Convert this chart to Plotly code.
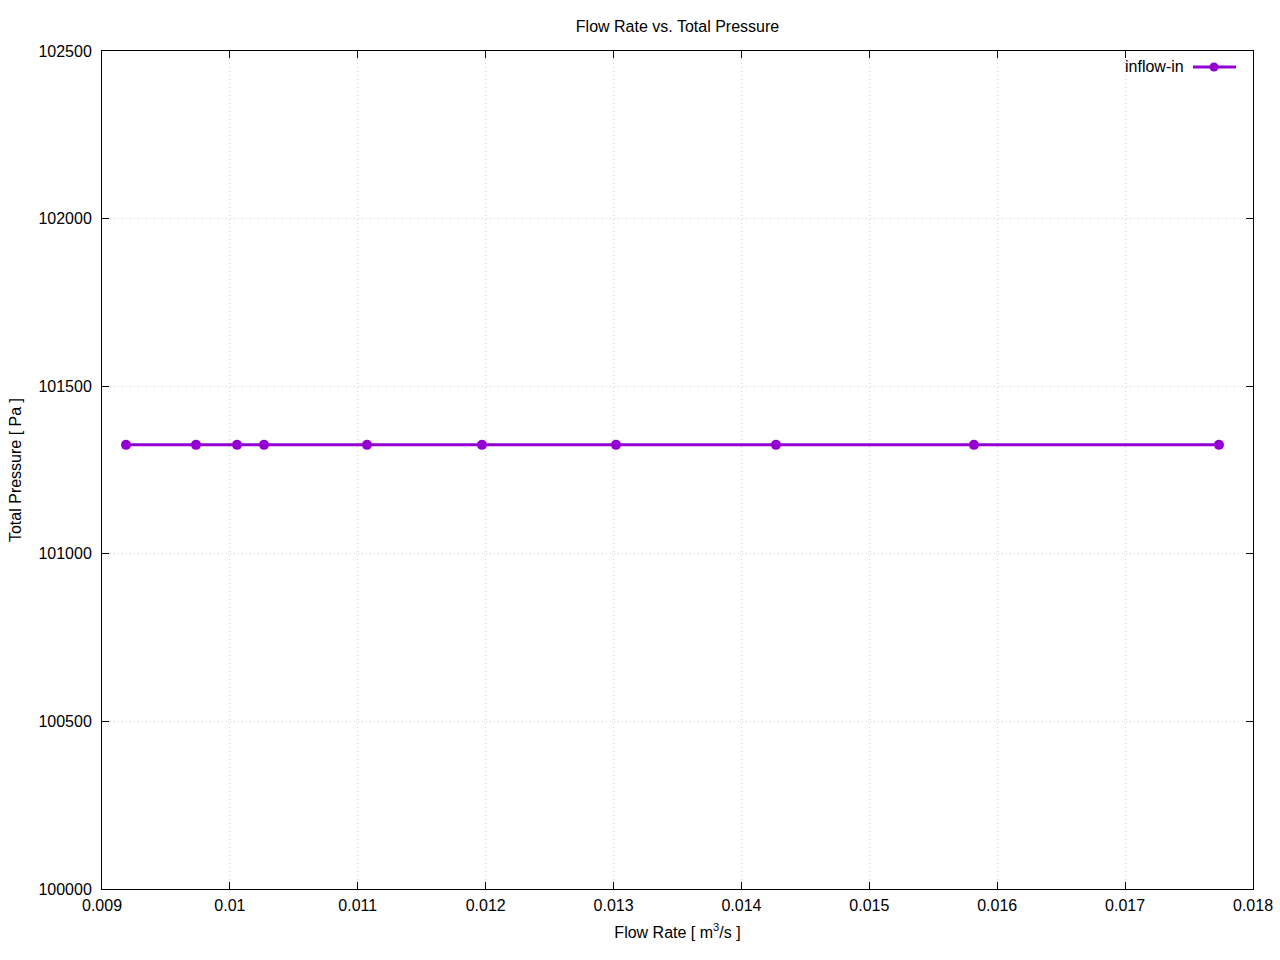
import plotly.graph_objects as go

flow_rate = [0.009188, 0.009735, 0.010056, 0.010267, 0.011072,
             0.011971, 0.013019, 0.014270, 0.015818, 0.017734]
total_pressure = [101325] * len(flow_rate)
series_name = "inflow-in"
x_ticks = [0.009, 0.010, 0.011, 0.012, 0.013, 0.014, 0.015, 0.016, 0.017, 0.018]
x_tick_labels = ["0.009", "0.01", "0.011", "0.012", "0.013", "0.014", "0.015", "0.016", "0.017", "0.018"]
y_ticks = [100000, 100500, 101000, 101500, 102000, 102500]
y_tick_labels = ["100000", "100500", "101000", "101500", "102000", "102500"]

COLOR = "#9400D3"
FONT = "Liberation Sans, Arial, sans-serif"

fig = go.Figure()
fig.add_trace(go.Scatter(
    x=flow_rate, y=total_pressure, mode="lines+markers", name=series_name,
    line=dict(color=COLOR, width=3),
    marker=dict(color=COLOR, size=10, symbol="circle"),
    showlegend=False,
))

axis_common = dict(
    showline=True, linecolor="black", linewidth=1, mirror="allticks",
    ticks="inside", ticklen=7, tickcolor="black", tickwidth=1,
    showgrid=True, gridcolor="#cfcfcf", griddash="1px,3px", gridwidth=1,
    zeroline=False, tickfont=dict(family=FONT, size=16, color="black"),
    automargin=False,
)

fig.update_xaxes(range=[0.009, 0.018], tickvals=x_ticks, ticktext=x_tick_labels,
                 ticklabelstandoff=2,
                 title=dict(text="Flow Rate [ m<sup>3</sup>/s ]", font=dict(family=FONT, size=16, color="black"), standoff=13),
                 **axis_common)
fig.update_yaxes(range=[100000, 102500], tickvals=y_ticks, ticktext=y_tick_labels,
                 ticklabelstandoff=6,
                 title=dict(text="Total Pressure [ Pa ]", font=dict(family=FONT, size=16, color="black"), standoff=12),
                 **axis_common)

# gnuplot-style legend: text on the left, sample on the right
W, H = 1151, 838
ly = (889 - 67) / H
fig.add_annotation(x=(1186 - 102) / W, y=ly, xref="paper", yref="paper",
                   text=series_name, showarrow=False, xanchor="right", yanchor="middle",
                   font=dict(family=FONT, size=16, color="black"))
fig.add_shape(type="line", xref="paper", yref="paper",
              x0=(1193 - 102) / W, x1=(1236 - 102) / W, y0=ly, y1=ly,
              line=dict(color=COLOR, width=3))
cx, r = (1214 - 102) / W, 4.5
fig.add_shape(type="circle", xref="paper", yref="paper",
              x0=cx - r / W, x1=cx + r / W, y0=ly - r / H, y1=ly + r / H,
              fillcolor=COLOR, line=dict(color=COLOR, width=0))

fig.update_layout(
    width=1280, height=960, autosize=False,
    margin=dict(l=102, r=27, t=51, b=71, autoexpand=False),
    paper_bgcolor="white", plot_bgcolor="white",
    title=dict(text="Flow Rate vs. Total Pressure", x=0.5, xref="paper", xanchor="center",
               y=1 - 26 / 960, yanchor="middle",
               font=dict(family=FONT, size=16, color="black")),
    font=dict(family=FONT, color="black"),
)

fig.write_html("out.html", config={"displayModeBar": False, "responsive": False},
               post_script="document.body.style.margin='0';document.body.style.overflow='hidden';")
